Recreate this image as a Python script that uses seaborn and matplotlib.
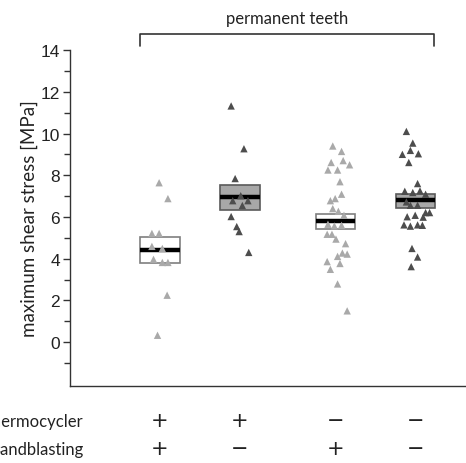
import numpy as np
import pandas as pd
import matplotlib
matplotlib.use("Agg")
import matplotlib.pyplot as plt
import seaborn as sns

sns.set_style("white")
plt.rcParams['font.family'] = ['Lato', 'DejaVu Sans']

# ---- data ----
groups = ["A", "B", "C", "D"]
thermocycler = ["+", "+", "\u2212", "\u2212"]
sandblasting = ["+", "\u2212", "+", "\u2212"]

vals_a = [7.64, 6.88, 5.21, 5.21, 4.59, 4.49, 3.97, 3.82, 3.82, 2.25, 0.33]
jit_a = [-0.01, 0.10, -0.10, -0.01, -0.10, 0.03, -0.08, 0.03, 0.10, 0.09, -0.03]
vals_b = [11.32, 9.27, 7.84, 7.02, 6.78, 6.78, 6.55, 6.02, 5.54, 5.30, 4.30]
jit_b = [-0.11, 0.05, -0.06, 0.01, -0.09, 0.10, 0.03, -0.11, -0.04, -0.01, 0.11]
vals_c = [9.40, 9.14, 8.61, 8.70, 8.50, 8.25, 8.25, 7.69, 7.09, 6.88, 6.78, 6.40,
          6.27, 6.08, 5.65, 5.57, 5.60, 5.17, 5.17, 4.94, 4.72, 4.27, 4.22, 4.11,
          3.86, 3.77, 3.49, 2.79, 1.50]
jit_c = [-0.03, 0.08, -0.05, 0.10, 0.18, -0.09, 0.03, 0.06, 0.08, 0.00, -0.06, -0.03,
         0.04, 0.11, -0.09, -0.01, 0.08, -0.10, -0.04, 0.01, 0.13, 0.09, 0.15, 0.03,
         -0.10, 0.06, -0.06, 0.03, 0.15]
vals_d = [10.10, 9.54, 9.19, 9.00, 9.03, 8.61, 7.60, 7.23, 7.17, 7.25, 7.09, 6.72,
          6.56, 6.56, 6.21, 6.21, 6.01, 6.08, 5.99, 5.62, 5.56, 5.62, 5.60, 4.49,
          4.08, 3.62]
jit_d = [-0.11, -0.03, -0.06, -0.16, 0.04, -0.08, 0.03, -0.13, -0.03, 0.06, 0.13, -0.11,
         -0.06, 0.03, 0.13, 0.18, -0.10, 0.00, 0.10, -0.14, -0.06, 0.03, 0.09, -0.04,
         0.03, -0.05]

box_mean = [4.40, 6.98, 5.80, 6.83]
box_low = [3.77, 6.35, 5.40, 6.43]
box_high = [5.02, 7.55, 6.16, 7.12]

# ---- layout / style ----
positions = [1.0, 2.0, 3.19, 4.19]
point_colors = {"A": "#a9a9a9", "B": "#4d4d4d", "C": "#a9a9a9", "D": "#4d4d4d"}
box_fill = ["white", "#a8a8a8", "white", "#a8a8a8"]
box_edge = ["#7f7f7f", "#5a5a5a", "#7f7f7f", "#5a5a5a"]

rows = []
for g, pos, vals, jit in zip(groups, positions, [vals_a, vals_b, vals_c, vals_d],
                             [jit_a, jit_b, jit_c, jit_d]):
    for v, j in zip(vals, jit):
        rows.append({"group": g, "x": pos + j, "y": v})
df = pd.DataFrame(rows)

fig = plt.figure(figsize=(4.66, 4.64), dpi=100)
ax = fig.add_axes([0.150, 0.166, 0.850, 0.724])

# boxes (mean +/- SEM)
for pos, lo, hi, m, fc, ec in zip(positions, box_low, box_high, box_mean, box_fill, box_edge):
    ax.bar(pos, hi - lo, bottom=lo, width=0.49, color=fc, edgecolor=ec, linewidth=1.2, zorder=2)
    ax.hlines(m, pos - 0.245, pos + 0.245, color="black", linewidth=3.2, zorder=3)

sns.scatterplot(data=df, x="x", y="y", hue="group", palette=point_colors,
                marker="^", s=28, edgecolor="none", legend=False, ax=ax, zorder=4)

ax.set_xlim(-0.125, 4.825)
ax.set_ylim(-2.1, 14)
ax.set_yticks(np.arange(0, 15, 2))
ax.set_yticks(np.arange(-1, 14, 2), minor=True)
ax.set_xticks([])
ax.set_xlabel("")
ax.set_ylabel("maximum shear stress [MPa]", fontsize=13.5, color="#222222", labelpad=2)

for s in ["top", "right"]:
    ax.spines[s].set_visible(False)
for s in ["left", "bottom"]:
    ax.spines[s].set_color("#333333")
    ax.spines[s].set_linewidth(1.0)

ax.tick_params(axis="y", which="major", direction="out", length=5, width=1, color="#333333",
               left=True, labelsize=12.5, labelcolor="#222222", pad=2)
ax.tick_params(axis="y", which="minor", direction="out", length=4, width=1, color="#333333", left=True)
for lab in ax.get_yticklabels():
    lab.set_family(['Liberation Sans', 'DejaVu Sans'])

# bracket above the groups
bx0, bx1, by_top, by_bot = 0.75, 4.425, 14.76, 14.19
ax.plot([bx0, bx0, bx1, bx1], [by_bot, by_top, by_top, by_bot], color="#333333",
        linewidth=1.2, clip_on=False)
ax.text((bx0 + bx1) / 2, 15.55, "permanent teeth", ha="center", va="center",
        fontsize=12, color="#222222", clip_on=False)

# treatment table below the axis
ax.text(0.045, -3.8, "thermocycler", ha="right", va="center", fontsize=12, color="#222222", clip_on=False)
ax.text(0.045, -5.1, "sandblasting", ha="right", va="center", fontsize=12, color="#222222", clip_on=False)
for pos, t, sb in zip(positions, thermocycler, sandblasting):
    ax.text(pos, -3.75, t, ha="center", va="center", fontsize=15, color="#222222",
            family=['DejaVu Sans'], clip_on=False)
    ax.text(pos, -5.05, sb, ha="center", va="center", fontsize=15, color="#222222",
            family=['DejaVu Sans'], clip_on=False)

fig.savefig("out.png", dpi=100)
